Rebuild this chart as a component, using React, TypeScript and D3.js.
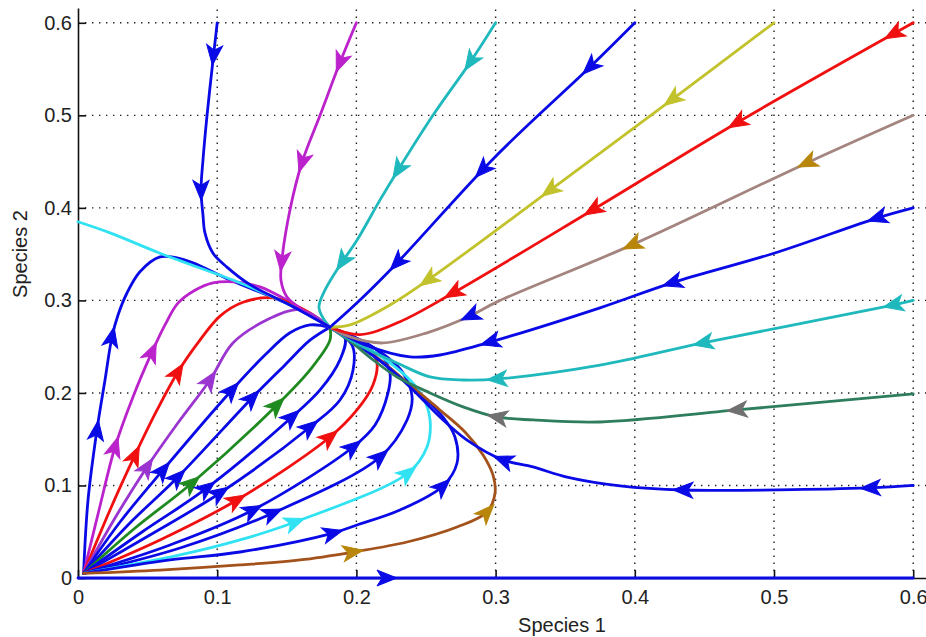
import { useEffect, useRef } from "react";
import * as d3 from "d3";

type Pt = [number, number];

// axis ticks and labels
const xTicks = [0, 0.1, 0.2, 0.3, 0.4, 0.5, 0.6];
const yTicks = [0, 0.1, 0.2, 0.3, 0.4, 0.5, 0.6];
const xLabel = "Species 1";
const yLabel = "Species 2";
const xLimit = 0.62;
const yLimit = 0.616;

// unstable node near the origin, stable node where every curve ends
const source: Pt = [0.004, 0.005];
const sink: Pt = [0.181, 0.271];

// curves that come in from the top and right edges
const top01: Pt[] = [[0.1, 0.6], [0.097, 0.56], [0.0927, 0.5], [0.0898, 0.452], [0.0884, 0.419], [0.0898, 0.392], [0.0912, 0.373], [0.097, 0.351], [0.107, 0.336], [0.1236, 0.317], [0.1523, 0.295]];
const top01Arrows: Pt[] = [[0.0984, 0.565], [0.0876, 0.419]];
const top02: Pt[] = [[0.2, 0.6], [0.1882, 0.557], [0.1739, 0.5], [0.1609, 0.449], [0.1523, 0.398], [0.1465, 0.344], [0.1458, 0.322], [0.15, 0.304], [0.161, 0.29]];
const top02Arrows: Pt[] = [[0.188, 0.557], [0.1609, 0.449], [0.146, 0.342]];
const top03: Pt[] = [[0.3, 0.6], [0.2816, 0.557], [0.255, 0.5], [0.23, 0.441], [0.217, 0.4086], [0.2004, 0.365], [0.1882, 0.338], [0.1774, 0.311], [0.1731, 0.293], [0.176, 0.281]];
const top03Arrows: Pt[] = [[0.2816, 0.558], [0.23, 0.441], [0.188, 0.344]];
const top04: Pt[] = [[0.4, 0.6], [0.368, 0.5524], [0.2996, 0.455], [0.2292, 0.3405], [0.2026, 0.3005]];
const top04Arrows: Pt[] = [[0.368, 0.552], [0.2924, 0.438], [0.229, 0.341]];
const top05: Pt[] = [[0.5, 0.6], [0.4267, 0.517], [0.339, 0.419], [0.2514, 0.322], [0.2241, 0.295], [0.1954, 0.2735]];
const top05Arrows: Pt[] = [[0.4267, 0.517], [0.339, 0.419], [0.2514, 0.322]];
const top06: Pt[] = [[0.6, 0.6], [0.4734, 0.492], [0.37, 0.398], [0.2694, 0.308], [0.2313, 0.277], [0.2026, 0.263]];
const top06Arrows: Pt[] = [[0.5855, 0.589], [0.4734, 0.492], [0.37, 0.398], [0.2694, 0.308]];
const top07: Pt[] = [[0.6, 0.5], [0.5237, 0.4486], [0.398, 0.36], [0.301, 0.2984], [0.2816, 0.2832], [0.2507, 0.265], [0.219, 0.254], [0.1954, 0.2605]];
const top07Arrows: Pt[] = [[0.5237, 0.4486], [0.398, 0.36]];
const top07LastArrow: Pt[] = [[0.2816, 0.283]];
const top08: Pt[] = [[0.6, 0.4], [0.574, 0.389], [0.5, 0.351], [0.4267, 0.319], [0.375, 0.292], [0.296, 0.255], [0.26, 0.241], [0.2385, 0.239], [0.2062, 0.252]];
const top08Arrows: Pt[] = [[0.574, 0.389], [0.4267, 0.319], [0.296, 0.255]];
const top09: Pt[] = [[0.6, 0.3], [0.5855, 0.295], [0.449, 0.254], [0.375, 0.23], [0.301, 0.215], [0.2766, 0.214], [0.2529, 0.2173], [0.2292, 0.2324], [0.2047, 0.2497]];
const top09Arrows: Pt[] = [[0.5855, 0.295], [0.449, 0.254], [0.301, 0.215]];
const top10: Pt[] = [[0.6, 0.199], [0.4734, 0.1816], [0.375, 0.1686], [0.3269, 0.1708], [0.301, 0.174], [0.2766, 0.185], [0.2529, 0.2], [0.2292, 0.2173], [0.212, 0.2357], [0.197, 0.254]];
const top10Arrows: Pt[] = [[0.4734, 0.1816], [0.301, 0.174]];
const top11: Pt[] = [[0.6, 0.1], [0.569, 0.0973], [0.4346, 0.0951], [0.3894, 0.0995], [0.3513, 0.109], [0.3269, 0.12], [0.3053, 0.1276], [0.2795, 0.149], [0.26, 0.174], [0.2385, 0.2065], [0.219, 0.2324], [0.199, 0.254]];
const top11Arrows: Pt[] = [[0.569, 0.0973], [0.4346, 0.0951], [0.3053, 0.1276]];
const leftEdge: Pt[] = [[0, 0.385], [0.023, 0.373], [0.0589, 0.351], [0.0876, 0.335], [0.1113, 0.322], [0.1523, 0.295]];

// curves that leave the origin
const fan01: Pt[] = [[0.0072, 0.0843], [0.0136, 0.16], [0.0194, 0.214], [0.0244, 0.2605], [0.0287, 0.284], [0.0352, 0.308], [0.0445, 0.331], [0.0589, 0.347], [0.0711, 0.346], [0.0826, 0.3405], [0.1092, 0.322], [0.1523, 0.295]];
const fan01Arrows: Pt[] = [[0.0136, 0.16], [0.0244, 0.2605]];
const fan02: Pt[] = [[0.0151, 0.0735], [0.0266, 0.1416], [0.0395, 0.1957], [0.0532, 0.2443], [0.0625, 0.2735], [0.0718, 0.297], [0.084, 0.311], [0.097, 0.319], [0.1128, 0.32], [0.1307, 0.3146], [0.1523, 0.2984], [0.165, 0.287]];
const fan02Arrows: Pt[] = [[0.0266, 0.1416], [0.0532, 0.2443]];
const fan03: Pt[] = [[0.023, 0.0735], [0.041, 0.133], [0.0568, 0.1816], [0.0718, 0.2227], [0.0876, 0.257], [0.102, 0.283], [0.1185, 0.298], [0.14, 0.3027], [0.1523, 0.297], [0.1667, 0.2865]];
const fan03Arrows: Pt[] = [[0.041, 0.133], [0.0718, 0.2227]];
const fan04: Pt[] = [[0.0266, 0.0649], [0.0496, 0.12], [0.072, 0.168], [0.0948, 0.214], [0.1113, 0.254], [0.1358, 0.279], [0.1573, 0.29], [0.1688, 0.2843]];
const fan04Arrows: Pt[] = [[0.0496, 0.12], [0.0948, 0.214]];
const fan05: Pt[] = [[0.0302, 0.0605], [0.0611, 0.1168], [0.1106, 0.2032], [0.1343, 0.241], [0.1523, 0.265], [0.1667, 0.2735]];
const fan05Arrows: Pt[] = [[0.0611, 0.1168], [0.1106, 0.2032]];
const fan06: Pt[] = [[0.0359, 0.0573], [0.0718, 0.1092], [0.125, 0.1946], [0.1487, 0.2303], [0.1667, 0.257]];
const fan06Arrows: Pt[] = [[0.0718, 0.1092], [0.125, 0.1946]];
const fan07: Pt[] = [[0.041, 0.054], [0.0819, 0.1027], [0.143, 0.187], [0.1667, 0.2249], [0.181, 0.257]];
const fan07Arrows: Pt[] = [[0.0819, 0.1027], [0.143, 0.187]];
const fan08: Pt[] = [[0.046, 0.0497], [0.0927, 0.0973], [0.1537, 0.174], [0.1739, 0.2032], [0.1882, 0.2357], [0.1918, 0.2595]];
const fan08Arrows: Pt[] = [[0.0927, 0.0973], [0.1537, 0.174]];
const fan09: Pt[] = [[0.0517, 0.0465], [0.102, 0.0919], [0.1667, 0.1632], [0.1882, 0.1924], [0.1976, 0.2249], [0.1968, 0.252]];
const fan09Arrows: Pt[] = [[0.102, 0.0919], [0.1667, 0.1632]];
const fan10: Pt[] = [[0.0589, 0.0411], [0.1142, 0.0843], [0.181, 0.1524], [0.2004, 0.1816], [0.2119, 0.2086], [0.2148, 0.2324], [0.2098, 0.2486], [0.1954, 0.2627]];
const fan10Arrows: Pt[] = [[0.1142, 0.0843], [0.181, 0.1524]];
const fan11: Pt[] = [[0.0661, 0.0357], [0.1257, 0.0735], [0.1976, 0.1416], [0.2134, 0.1654], [0.2227, 0.2], [0.2241, 0.2216], [0.217, 0.2432], [0.2026, 0.2573]];
const fan11Arrows: Pt[] = [[0.1257, 0.0735], [0.1976, 0.1416]];
const fan12: Pt[] = [[0.0733, 0.0324], [0.1401, 0.0703], [0.217, 0.1308], [0.2364, 0.1708], [0.24, 0.1957], [0.2335, 0.2216], [0.222, 0.2389], [0.2026, 0.2573]];
const fan12Arrows: Pt[] = [[0.1401, 0.0703], [0.217, 0.1308]];
const fan13: Pt[] = [[0.0733, 0.0249], [0.1164, 0.0411], [0.1559, 0.0605], [0.2371, 0.1135], [0.2507, 0.1416], [0.2529, 0.1708], [0.2478, 0.1957], [0.2385, 0.214], [0.2241, 0.2324], [0.2047, 0.2519]];
const fan13Arrows: Pt[] = [[0.1559, 0.0605], [0.2371, 0.1135]];
const fan14: Pt[] = [[0.0661, 0.0195], [0.1164, 0.0281], [0.1832, 0.0486], [0.2004, 0.0573], [0.2313, 0.0735], [0.2622, 0.0995], [0.2723, 0.1243], [0.2708, 0.1524], [0.2622, 0.174], [0.2478, 0.1957], [0.2313, 0.2173], [0.2134, 0.2389], [0.1954, 0.2573]];
const fan14Arrows: Pt[] = [[0.1832, 0.0486], [0.2622, 0.0995]];
const fan15: Pt[] = [[0.0589, 0.0086], [0.1164, 0.0141], [0.1595, 0.0195], [0.1976, 0.0281], [0.2364, 0.0389], [0.2723, 0.0551], [0.2938, 0.0714], [0.2996, 0.0919], [0.2981, 0.1114], [0.291, 0.133], [0.278, 0.1578], [0.26, 0.1816], [0.2385, 0.2086], [0.217, 0.2357], [0.1968, 0.2573]];
const fan15Arrows: Pt[] = [[0.1976, 0.0281], [0.2938, 0.0714]];
// species 2 extinct: flow along the x axis
const axisFlow: Pt[] = [[0, 0], [0.6, 0]];
const axisFlowArrows: Pt[] = [[0.222, 0]];

const colors = {
  blue: "#0a0ae6",
  magenta: "#bb22cc",
  red: "#f01010",
  violet: "#9a35d0",
  green: "#1f8a1f",
  cyan: "#30e2f2",
  teal: "#1fb9bd",
  yellow: "#c2c22c",
  mauve: "#a3847e",
  seagreen: "#2e7d5c",
  brown: "#a4521c",
  gold: "#b8860b",
  grey: "#707070",
};

type Flow = { pts: Pt[]; color: string; arrows: { at: Pt[]; color: string }[] };

const flow = (pts: Pt[], color: string, arrows: Pt[], arrowColor = color): Flow => ({
  pts,
  color,
  arrows: [{ at: arrows, color: arrowColor }],
});

const flows: Flow[] = [
  flow([source, ...fan01, sink], colors.blue, fan01Arrows),
  flow([source, ...fan02, sink], colors.magenta, fan02Arrows),
  flow([source, ...fan03, sink], colors.red, fan03Arrows),
  flow([source, ...fan04, sink], colors.violet, fan04Arrows),
  flow([source, ...fan05, sink], colors.blue, fan05Arrows),
  flow([source, ...fan06, sink], colors.blue, fan06Arrows),
  flow([source, ...fan07, sink], colors.green, fan07Arrows),
  flow([source, ...fan08, sink], colors.blue, fan08Arrows),
  flow([source, ...fan09, sink], colors.blue, fan09Arrows),
  flow([source, ...fan10, sink], colors.red, fan10Arrows),
  flow([source, ...fan11, sink], colors.blue, fan11Arrows),
  flow([source, ...fan12, sink], colors.blue, fan12Arrows),
  flow([source, ...fan13, sink], colors.cyan, fan13Arrows),
  flow([source, ...fan14, sink], colors.blue, fan14Arrows),
  flow([source, ...fan15, sink], colors.brown, fan15Arrows, colors.gold),
  flow([...leftEdge, sink], colors.cyan, []),
  flow([...top11, sink], colors.blue, top11Arrows),
  flow([...top10, sink], colors.seagreen, top10Arrows, colors.grey),
  flow([...top09, sink], colors.teal, top09Arrows),
  flow([...top08, sink], colors.blue, top08Arrows),
  {
    pts: [...top07, sink],
    color: colors.mauve,
    arrows: [
      { at: top07Arrows, color: colors.gold },
      { at: top07LastArrow, color: colors.blue },
    ],
  },
  flow([...top06, sink], colors.red, top06Arrows),
  flow([...top05, sink], colors.yellow, top05Arrows),
  flow([...top04, sink], colors.blue, top04Arrows),
  flow([...top03, sink], colors.teal, top03Arrows),
  flow([...top02, sink], colors.magenta, top02Arrows),
  flow([...top01, sink], colors.blue, top01Arrows),
];

const W = 926;
const H = 637;
const margin = { left: 78, bottom: 59, top: 8 };
const font = "'Liberation Sans', Arial, Helvetica, sans-serif";

export default function App() {
  const ref = useRef<SVGSVGElement>(null);

  useEffect(() => {
    const svg = d3.select(ref.current);
    svg.selectAll("*").remove();

    const x = d3.scaleLinear().domain([0, xLimit]).range([margin.left, margin.left + xLimit * 1392]);
    const y = d3.scaleLinear().domain([0, yLimit]).range([H - margin.bottom, margin.top]);

    svg.append("rect").attr("width", W).attr("height", H).attr("fill", "white");

    // dotted grid
    const grid = svg.append("g").attr("stroke", "#222").attr("stroke-width", 1.4).attr("stroke-dasharray", "1.4 5.6");
    xTicks.filter((t) => t > 0).forEach((t) => {
      grid.append("line").attr("x1", x(t)).attr("x2", x(t)).attr("y1", y(0)).attr("y2", y(yLimit));
    });
    yTicks.filter((t) => t > 0).forEach((t) => {
      grid.append("line").attr("x1", x(0)).attr("x2", x(xLimit)).attr("y1", y(t)).attr("y2", y(t));
    });

    // axes, ticks pointing inward
    const xAxis = svg
      .append("g")
      .attr("transform", `translate(0,${y(0)})`)
      .call(d3.axisBottom(x).tickValues(xTicks).tickFormat((d) => String(d)).tickSizeInner(-8).tickSizeOuter(0).tickPadding(12));
    const yAxis = svg
      .append("g")
      .attr("transform", `translate(${x(0)},0)`)
      .call(d3.axisLeft(y).tickValues(yTicks).tickFormat((d) => String(d)).tickSizeInner(-8).tickSizeOuter(0).tickPadding(6));
    [xAxis, yAxis].forEach((g) => {
      g.selectAll("path, line").attr("stroke", "#111").attr("stroke-width", 1.6);
      g.selectAll("text").attr("fill", "#222").style("font-family", font).style("font-size", "20px");
    });

    svg
      .append("text")
      .attr("x", 562)
      .attr("y", 632)
      .attr("text-anchor", "middle")
      .attr("fill", "#222")
      .style("font-family", font)
      .style("font-size", "20px")
      .text(xLabel);
    svg
      .append("text")
      .attr("transform", `translate(27,254) rotate(-90)`)
      .attr("text-anchor", "middle")
      .attr("fill", "#222")
      .style("font-family", font)
      .style("font-size", "20px")
      .text(yLabel);

    const line = d3
      .line<Pt>()
      .x((d) => x(d[0]))
      .y((d) => y(d[1]))
      .curve(d3.curveCatmullRom.alpha(0.5));

    const drawFlow = (f: Flow, straight = false) => {
      const p = svg
        .append("path")
        .attr("d", straight ? `M${x(f.pts[0][0])},${y(f.pts[0][1])}L${x(f.pts[1][0])},${y(f.pts[1][1])}` : line(f.pts))
        .attr("fill", "none")
        .attr("stroke", f.color)
        .attr("stroke-width", 2.8)
        .attr("stroke-linejoin", "round")
        .attr("stroke-linecap", "round");
      const node = p.node() as SVGPathElement;
      const total = node.getTotalLength();
      f.arrows.forEach((a) => {
        a.at.forEach((pt) => {
          const tx = x(pt[0]);
          const ty = y(pt[1]);
          let best = 0;
          let bestD = Infinity;
          for (let l = 0; l <= total; l += 0.5) {
            const q = node.getPointAtLength(l);
            const dd = (q.x - tx) ** 2 + (q.y - ty) ** 2;
            if (dd < bestD) {
              bestD = dd;
              best = l;
            }
          }
          const q0 = node.getPointAtLength(Math.max(0, best - 3));
          const q1 = node.getPointAtLength(Math.min(total, best + 3));
          const c = node.getPointAtLength(best);
          const ang = (Math.atan2(q1.y - q0.y, q1.x - q0.x) * 180) / Math.PI;
          svg
            .append("path")
            .attr("d", "M10,0 L-10,-8 L-5,0 L-10,8 Z")
            .attr("transform", `translate(${c.x},${c.y}) rotate(${ang})`)
            .attr("fill", a.color)
            .attr("stroke", a.color)
            .attr("stroke-width", 1)
            .attr("stroke-linejoin", "miter");
        });
      });
    };

    drawFlow(flow(axisFlow, colors.blue, axisFlowArrows), true);
    flows.forEach((f) => drawFlow(f));
  }, []);

  return <svg ref={ref} width={W} height={H} style={{ position: "absolute", left: 0, top: 0 }} />;
}
